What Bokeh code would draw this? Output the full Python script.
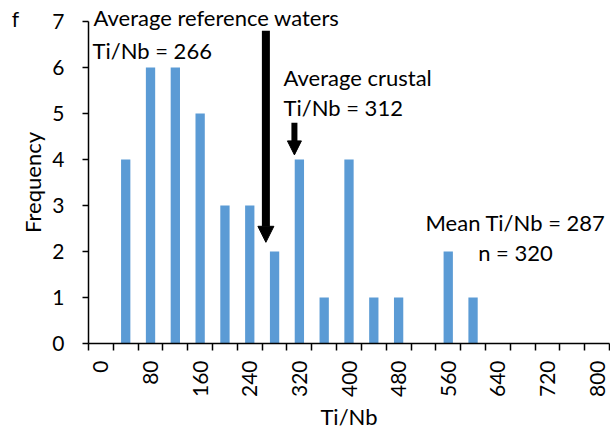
import math
from bokeh.plotting import figure
from bokeh.models import (ColumnDataSource, FixedTicker, Label, Arrow, NormalHead, Range1d)
from bokeh.embed import file_html
from bokeh.resources import INLINE

# Histogram of Ti/Nb ratios (bin centres, step 40)
bin_centres = [0, 40, 80, 120, 160, 200, 240, 280, 320, 360, 400,
               440, 480, 520, 560, 600, 640, 680, 720, 760, 800]
counts = [0, 4, 6, 6, 5, 3, 3, 2, 4, 1, 4,
          1, 1, 0, 2, 1, 0, 0, 0, 0, 0]
tick_labels = [0, 80, 160, 240, 320, 400, 480, 560, 640, 720, 800]

ref_waters = 266
crustal = 312
mean_ratio = 287
n_samples = 320

FONT = "Lato"
BAR_COLOR = "#5B9BD5"
W, H = 610, 431

# The plotting frame fills the whole canvas so that the annotation texts
# around the axes are never clipped; the axes sit at fixed data positions.
x_lo, x_hi = -20, 820          # outer edges of the first/last bins
y_lo, y_hi = 0, 7
px_left, px_right = 88, 609    # where the axis box sits on the canvas
px_top, px_bottom = 21, 343
sx = (x_hi - x_lo) / (px_right - px_left)
sy = (y_hi - y_lo) / (px_bottom - px_top)
x_range = Range1d(x_lo - px_left * sx, x_hi + (W - px_right) * sx)
y_range = Range1d(y_lo - (H - px_bottom) * sy, y_hi + px_top * sy)

src = ColumnDataSource(dict(x=bin_centres, top=counts))

p = figure(width=W, height=H, output_backend="svg", toolbar_location=None,
           x_range=x_range, y_range=y_range,
           min_border=0, min_border_left=0, min_border_right=0,
           min_border_top=0, min_border_bottom=0)
p.outline_line_color = None
p.xgrid.visible = False
p.ygrid.visible = False
p.background_fill_color = "white"
p.border_fill_color = "white"

p.vbar(x="x", top="top", width=15, source=src, fill_color=BAR_COLOR,
       line_color=None)

# x axis: labels at every other bin centre, tick marks at bin boundaries
xa = p.xaxis[0]
xa.fixed_location = y_lo
xa.bounds = (x_lo, x_hi)
xa.ticker = FixedTicker(ticks=tick_labels,
                        minor_ticks=[c - 20 for c in bin_centres] + [x_hi])
xa.major_tick_line_color = None
xa.minor_tick_in = 0
xa.minor_tick_out = 7
xa.minor_tick_line_color = "black"
xa.minor_tick_line_width = 1.5
xa.axis_line_color = "black"
xa.axis_line_width = 1.5
xa.major_label_orientation = math.pi / 2
xa.major_label_text_font = FONT
xa.major_label_text_font_size = "21px"
xa.major_label_text_color = "black"
xa.major_label_standoff = 10
xa.axis_label = "Ti/Nb"
xa.axis_label_text_font = FONT
xa.axis_label_text_font_size = "22px"
xa.axis_label_text_font_style = "normal"
xa.axis_label_text_color = "black"
xa.axis_label_standoff = 3

ya = p.yaxis[0]
ya.fixed_location = x_lo
ya.bounds = (y_lo, y_hi)
ya.ticker = FixedTicker(ticks=list(range(0, 8)))
ya.minor_tick_line_color = None
ya.major_tick_in = 0
ya.major_tick_out = 6
ya.major_tick_line_color = "black"
ya.major_tick_line_width = 1.5
ya.axis_line_color = "black"
ya.axis_line_width = 1.5
ya.major_label_text_font = FONT
ya.major_label_text_font_size = "21px"
ya.major_label_text_color = "black"
ya.major_label_standoff = 18
ya.axis_label = "Frequency"
ya.axis_label_text_font = FONT
ya.axis_label_text_font_size = "22px"
ya.axis_label_text_font_style = "normal"
ya.axis_label_text_color = "black"
ya.axis_label_standoff = 3


def add_label(text, x, y, align="left", size="22px"):
    # positions in canvas pixels from the lower-left corner
    p.add_layout(Label(x=x, y=y, x_units="screen", y_units="screen",
                       text=text, text_font=FONT,
                       text_font_size=size, text_color="black",
                       text_align=align, text_baseline="middle"))


add_label("f", 15, H - 18, align="center", size="21px")
add_label("Average reference waters", 93, H - 17)
add_label(f"Ti/Nb = {ref_waters}", 92, H - 50)
add_label("Average crustal", 283, H - 77)
add_label(f"Ti/Nb = {crustal}", 283, H - 107)
add_label(f"Mean Ti/Nb = {mean_ratio}", 515, H - 222, align="center")
add_label(f"n = {n_samples}", 515, H - 252, align="center")

# Arrows marking the reference ratios
p.add_layout(Arrow(end=NormalHead(size=16, fill_color="black", line_color="black"),
                   x_start=ref_waters, y_start=6.8, x_end=ref_waters, y_end=2.2,
                   line_width=8, line_color="black"))
p.add_layout(Arrow(end=NormalHead(size=14, fill_color="black", line_color="black"),
                   x_start=crustal, y_start=4.8, x_end=crustal, y_end=4.1,
                   line_width=6, line_color="black"))

open("out.html", "w").write(file_html(p, INLINE))
